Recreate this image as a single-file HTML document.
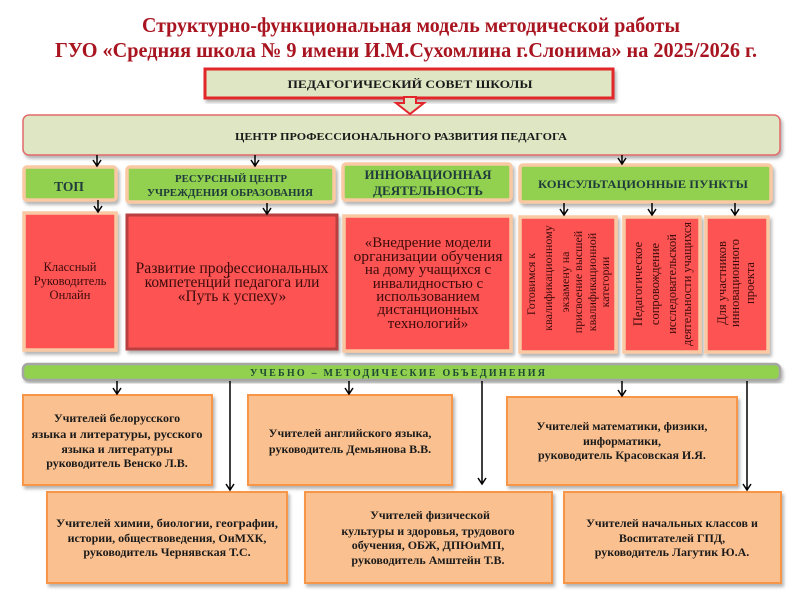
<!DOCTYPE html>
<html><head><meta charset="utf-8"><style>
html,body{margin:0;padding:0;background:#fff;}
svg{display:block;}
text{font-family:"Liberation Serif","Noto Serif CJK SC",serif;}
</style></head><body>
<svg width="800" height="600" viewBox="0 0 800 600" xmlns="http://www.w3.org/2000/svg">
<defs>
<filter id="sh" x="-10%" y="-10%" width="120%" height="130%"><feDropShadow dx="2" dy="3" stdDeviation="1.5" flood-color="#777" flood-opacity="0.55"/></filter>
</defs>
<rect width="800" height="600" fill="#fff"/>

<!-- Title -->
<text x="411" y="32" font-size="21" font-weight="bold" fill="#a8141f" text-anchor="middle" textLength="538" lengthAdjust="spacingAndGlyphs">Структурно-функциональная модель методической работы</text>
<text x="406" y="57" font-size="21" font-weight="bold" fill="#a8141f" text-anchor="middle" textLength="702" lengthAdjust="spacingAndGlyphs">ГУО «Средняя школа № 9 имени И.М.Сухомлина г.Слонима» на 2025/2026 г.</text>

<!-- Ped council -->
<rect x="205" y="69" width="408" height="29" fill="#dfe6c3" stroke="#e3262b" stroke-width="3" filter="url(#sh)"/>
<text x="410" y="88" font-size="12" font-weight="bold" fill="#1a1a1a" text-anchor="middle" textLength="245" lengthAdjust="spacingAndGlyphs">ПЕДАГОГИЧЕСКИЙ  СОВЕТ ШКОЛЫ</text>
<!-- Center box -->
<rect x="23" y="115" width="757" height="40" rx="6" fill="#dfe6c3" stroke="#e26a6a" stroke-width="1.5" filter="url(#sh)"/>
<text x="401" y="140" font-size="11" font-weight="bold" fill="#1a1a1a" text-anchor="middle" textLength="332" lengthAdjust="spacingAndGlyphs">ЦЕНТР   ПРОФЕССИОНАЛЬНОГО   РАЗВИТИЯ   ПЕДАГОГА</text>
<!-- block arrow -->
<polygon points="404,97 416,97 416,103 424,103 410,114 396,103 404,103" fill="#dfe6c3" stroke="#e3262b" stroke-width="2" stroke-linejoin="miter"/>

<!-- Green headers -->
<g stroke="#f9c9a3" stroke-width="3.5" fill="#92d050" filter="url(#sh)">
<rect x="24" y="167" width="92" height="33" rx="3"/>
<rect x="127" y="167" width="207" height="35" rx="3"/>
<rect x="343" y="164" width="168" height="36" rx="3"/>
<rect x="520" y="165" width="251" height="37" rx="3"/>
</g>
<g font-weight="bold" fill="#1f3b3b" text-anchor="middle">
<text x="69" y="191" font-size="13.5">ТОП</text>
<text x="231" y="182" font-size="10.5" textLength="112" lengthAdjust="spacingAndGlyphs">РЕСУРСНЫЙ  ЦЕНТР</text>
<text x="230" y="196" font-size="10.5" textLength="166" lengthAdjust="spacingAndGlyphs">УЧРЕЖДЕНИЯ  ОБРАЗОВАНИЯ</text>
<text x="428" y="179" font-size="13" textLength="127" lengthAdjust="spacingAndGlyphs">ИННОВАЦИОННАЯ</text>
<text x="428" y="195" font-size="13" textLength="110" lengthAdjust="spacingAndGlyphs">ДЕЯТЕЛЬНОСТЬ</text>
<text x="643" y="188" font-size="12" textLength="210" lengthAdjust="spacingAndGlyphs">КОНСУЛЬТАЦИОННЫЕ ПУНКТЫ</text>
</g>

<!-- Red boxes -->
<g stroke="#f9c9a3" stroke-width="3.5" fill="#fd5252" filter="url(#sh)">
<rect x="24" y="213" width="92" height="137"/>
<rect x="344" y="216" width="167" height="135"/>
<rect x="520" y="217" width="96" height="135"/>
<rect x="624" y="217" width="76" height="135"/>
<rect x="706" y="217" width="62" height="135"/>
</g>
<rect x="127" y="215" width="210" height="134" fill="#fd5252" stroke="#b8413f" stroke-width="3" filter="url(#sh)"/>

<g fill="#3d0b0b" text-anchor="middle">
<text x="70" y="271" font-size="12.5">Классный</text>
<text x="70" y="285" font-size="12.5">Руководитель</text>
<text x="70" y="299" font-size="12.5">Онлайн</text>

<text x="232" y="273" font-size="15.5" textLength="193" lengthAdjust="spacingAndGlyphs">Развитие профессиональных</text>
<text x="232" y="287" font-size="15.5">компетенций педагога или</text>
<text x="232" y="301" font-size="15.5">«Путь к успеху»</text>

<text x="428" y="247" font-size="15">«Внедрение модели</text>
<text x="428" y="261" font-size="15" textLength="149" lengthAdjust="spacingAndGlyphs">организации обучения</text>
<text x="428" y="274" font-size="15">на дому учащихся  с</text>
<text x="428" y="288" font-size="15">инвалидностью с</text>
<text x="428" y="301" font-size="15">использованием</text>
<text x="428" y="314" font-size="15">дистанционных</text>
<text x="428" y="328" font-size="15">технологий»</text>

<!-- vertical texts -->
<g font-size="12">
<text transform="translate(535,284) rotate(-90)">Готовимся к</text>
<text transform="translate(552,278) rotate(-90)">квалификационному</text>
<text transform="translate(569,282) rotate(-90)">экзамену на</text>
<text transform="translate(582,282) rotate(-90)">присвоение  высшей</text>
<text transform="translate(596,282) rotate(-90)">квалификационной</text>
<text transform="translate(609,282) rotate(-90)">категории</text>
</g>
<g font-size="12.5">
<text transform="translate(642,284) rotate(-90)">Педагогическое</text>
<text transform="translate(659,284) rotate(-90)">сопровождение</text>
<text transform="translate(676,284) rotate(-90)">исследовательской</text>
<text transform="translate(691,284) rotate(-90)" textLength="124" lengthAdjust="spacingAndGlyphs">деятельности учащихся</text>
</g>
<g font-size="12.5">
<text transform="translate(726,283) rotate(-90)">Для участников</text>
<text transform="translate(739,283) rotate(-90)">инновационного</text>
<text transform="translate(754,283) rotate(-90)">проекта</text>
</g>
</g>

<!-- Bar -->
<rect x="23" y="364" width="757" height="16" rx="5" fill="#92d050" stroke="#a6a6a6" stroke-width="2.5" filter="url(#sh)"/>
<text x="399" y="376" font-size="10" font-weight="bold" fill="#1d4a33" text-anchor="middle" textLength="298" lengthAdjust="spacing" letter-spacing="3">УЧЕБНО – МЕТОДИЧЕСКИЕ  ОБЪЕДИНЕНИЯ</text>

<!-- Orange boxes -->
<g fill="#fac090" stroke="#f79646" stroke-width="2" filter="url(#sh)">
<rect x="23" y="395" width="189" height="90"/>
<rect x="248" y="395" width="204" height="90"/>
<rect x="507" y="397" width="230" height="88"/>
<rect x="47" y="492" width="240" height="91"/>
<rect x="305" y="492" width="247" height="91"/>
<rect x="564" y="492" width="217" height="91"/>
</g>
<g font-size="12" font-weight="bold" fill="#1a1a1a" text-anchor="middle">
<text x="117" y="422">Учителей белорусского</text>
<text x="117" y="438" textLength="171" lengthAdjust="spacingAndGlyphs">языка и литературы, русского</text>
<text x="117" y="453">языка и литературы</text>
<text x="117" y="467">руководитель Венско Л.В.</text>

<text x="350" y="437">Учителей английского языка,</text>
<text x="350" y="453">руководитель Демьянова В.В.</text>

<text x="622" y="430">Учителей математики, физики,</text>
<text x="622" y="445">информатики,</text>
<text x="622" y="459">руководитель Красовская И.Я.</text>

<text x="167" y="527" textLength="222" lengthAdjust="spacingAndGlyphs">Учителей химии, биологии, географии,</text>
<text x="167" y="542">истории, обществоведения, ОиМХК,</text>
<text x="167" y="556">руководитель Чернявская Т.С.</text>

<text x="430" y="519">Учителей физической</text>
<text x="428" y="535">культуры и здоровья, трудового</text>
<text x="428" y="549">обучения, ОБЖ, ДПЮиМП,</text>
<text x="428" y="564">руководитель Амштейн Т.В.</text>

<text x="672" y="527">Учителей начальных классов и</text>
<text x="672" y="542">Воспитателей ГПД,</text>
<text x="672" y="556">руководитель Лагутик Ю.А.</text>
</g>

<!-- Arrows -->
<g stroke="#000" stroke-width="1.5" fill="none">
<path d="M97 155V166 M93 160L97 166L101 160"/>
<path d="M255 155V166 M251 160L255 166L259 160"/>
<path d="M622 155V164 M618 158L622 164L626 158"/>
<path d="M98 200V212 M94 206L98 212L102 206"/>
<path d="M267 203V214 M263 208L267 214L271 208"/>
<path d="M564 203V215 M560 209L564 215L568 209"/>
<path d="M652 203V215 M648 209L652 215L656 209"/>
<path d="M735 203V215 M731 209L735 215L739 209"/>
<path d="M117 381V394 M113 388L117 394L121 388"/>
<path d="M349 381V394 M345 388L349 394L353 388"/>
<path d="M622 381V396 M618 390L622 396L626 390"/>
<path d="M230 381V490 M226 484L230 490L234 484"/>
<path d="M482 381V484 M478 478L482 484L486 478"/>
<path d="M747 381V490 M743 484L747 490L751 484"/>
</g>
</svg>
</body></html>
